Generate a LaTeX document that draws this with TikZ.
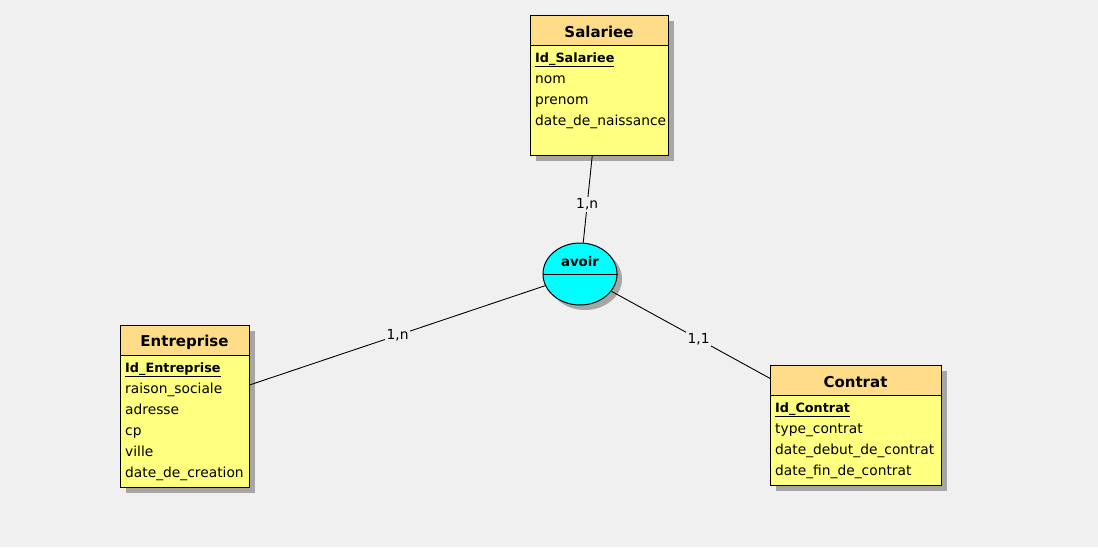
\documentclass[tikz,border=0pt]{standalone}
\usepackage{fontspec}
\setmainfont{DejaVu Sans}
\usetikzlibrary{shapes.geometric,shadows}
\definecolor{bg}{HTML}{F0F0F0}
\definecolor{headfill}{HTML}{FFDD88}
\definecolor{bodyfill}{HTML}{FFFF80}
\definecolor{relfill}{HTML}{00FFFF}
\definecolor{shade}{HTML}{A6A6A6}

\begin{document}
\begin{tikzpicture}[x=1pt,y=-1pt,
  boxshadow/.style={drop shadow={shadow xshift=5pt,shadow yshift=-5pt,fill=shade,opacity=1}},
  entity/.style={draw=black,line width=1pt,fill=bodyfill,inner sep=0pt,anchor=north west,boxshadow},
  header/.style={draw=black,line width=1pt,fill=headfill,inner sep=0pt,anchor=north west},
  title/.style={anchor=base,inner sep=0pt,font=\fontsize{15}{17}\selectfont\bfseries},
  attr/.style={anchor=base west,inner sep=0pt,font=\fontsize{13.8}{16}\selectfont},
  key/.style={anchor=base west,inner sep=0pt,font=\fontsize{12.8}{16}\selectfont\bfseries},
  relation/.style={ellipse,draw=black,line width=1pt,fill=relfill,inner sep=0pt,
    minimum width=74pt,minimum height=62pt,boxshadow},
  link/.style={draw=black,line width=0.9pt},
  card/.style={fill=bg,inner sep=1.5pt,font=\fontsize{13.8}{16}\selectfont}]

% canvas
\fill[bg] (0,0) rectangle (1098,547);
\useasboundingbox (0,0) rectangle (1098,547);

% entity: Salariee
\node[entity,minimum width=138pt,minimum height=140pt] (sal) at (530,15) {};
\node[header,minimum width=138pt,minimum height=30pt] (salHead) at (530,15) {};
\node[title] (salTitle) at (599,37) {Salariee};
\node[key]  (salA1) at (535,62)  {\underline{Id\_Salariee}};
\node[attr] (salA2) at (535,83)  {nom};
\node[attr] (salA3) at (535,104) {prenom};
\node[attr] (salA4) at (535,125) {date\_de\_naissance};

% entity: Entreprise
\node[entity,minimum width=129pt,minimum height=162pt] (ent) at (120,325) {};
\node[header,minimum width=129pt,minimum height=30pt] (entHead) at (120,325) {};
\node[title] (entTitle) at (184.5,346) {Entreprise};
\node[key]  (entA1) at (125,372) {\underline{Id\_Entreprise}};
\node[attr] (entA2) at (125,393) {raison\_sociale};
\node[attr] (entA3) at (125,414) {adresse};
\node[attr] (entA4) at (125,435) {cp};
\node[attr] (entA5) at (125,456) {ville};
\node[attr] (entA6) at (125,477) {date\_de\_creation};

% entity: Contrat
\node[entity,minimum width=171pt,minimum height=120pt] (con) at (770,365) {};
\node[header,minimum width=171pt,minimum height=30pt] (conHead) at (770,365) {};
\node[title] (conTitle) at (855.5,387) {Contrat};
\node[key]  (conA1) at (775,412) {\underline{Id\_Contrat}};
\node[attr] (conA2) at (775,433) {type\_contrat};
\node[attr] (conA3) at (775,454) {date\_debut\_de\_contrat};
\node[attr] (conA4) at (775,475) {date\_fin\_de\_contrat};

% relationship: avoir
\node[relation] (av) at (580,274) {};
\draw[line width=1pt] (av.west) -- (av.east);
\node[title,font=\fontsize{13.3}{16}\selectfont\bfseries] (avTitle) at (580,266) {avoir};

% links with cardinalities
\draw[link] (sal) -- node[card,pos=0.56] (cSal) {1,n} (av);
\draw[link] (ent) -- node[card,pos=0.5] (cEnt) {1,n} (av);
\draw[link] (av) -- node[card,pos=0.55] (cCon) {1,1} (con);
\end{tikzpicture}
\end{document}
